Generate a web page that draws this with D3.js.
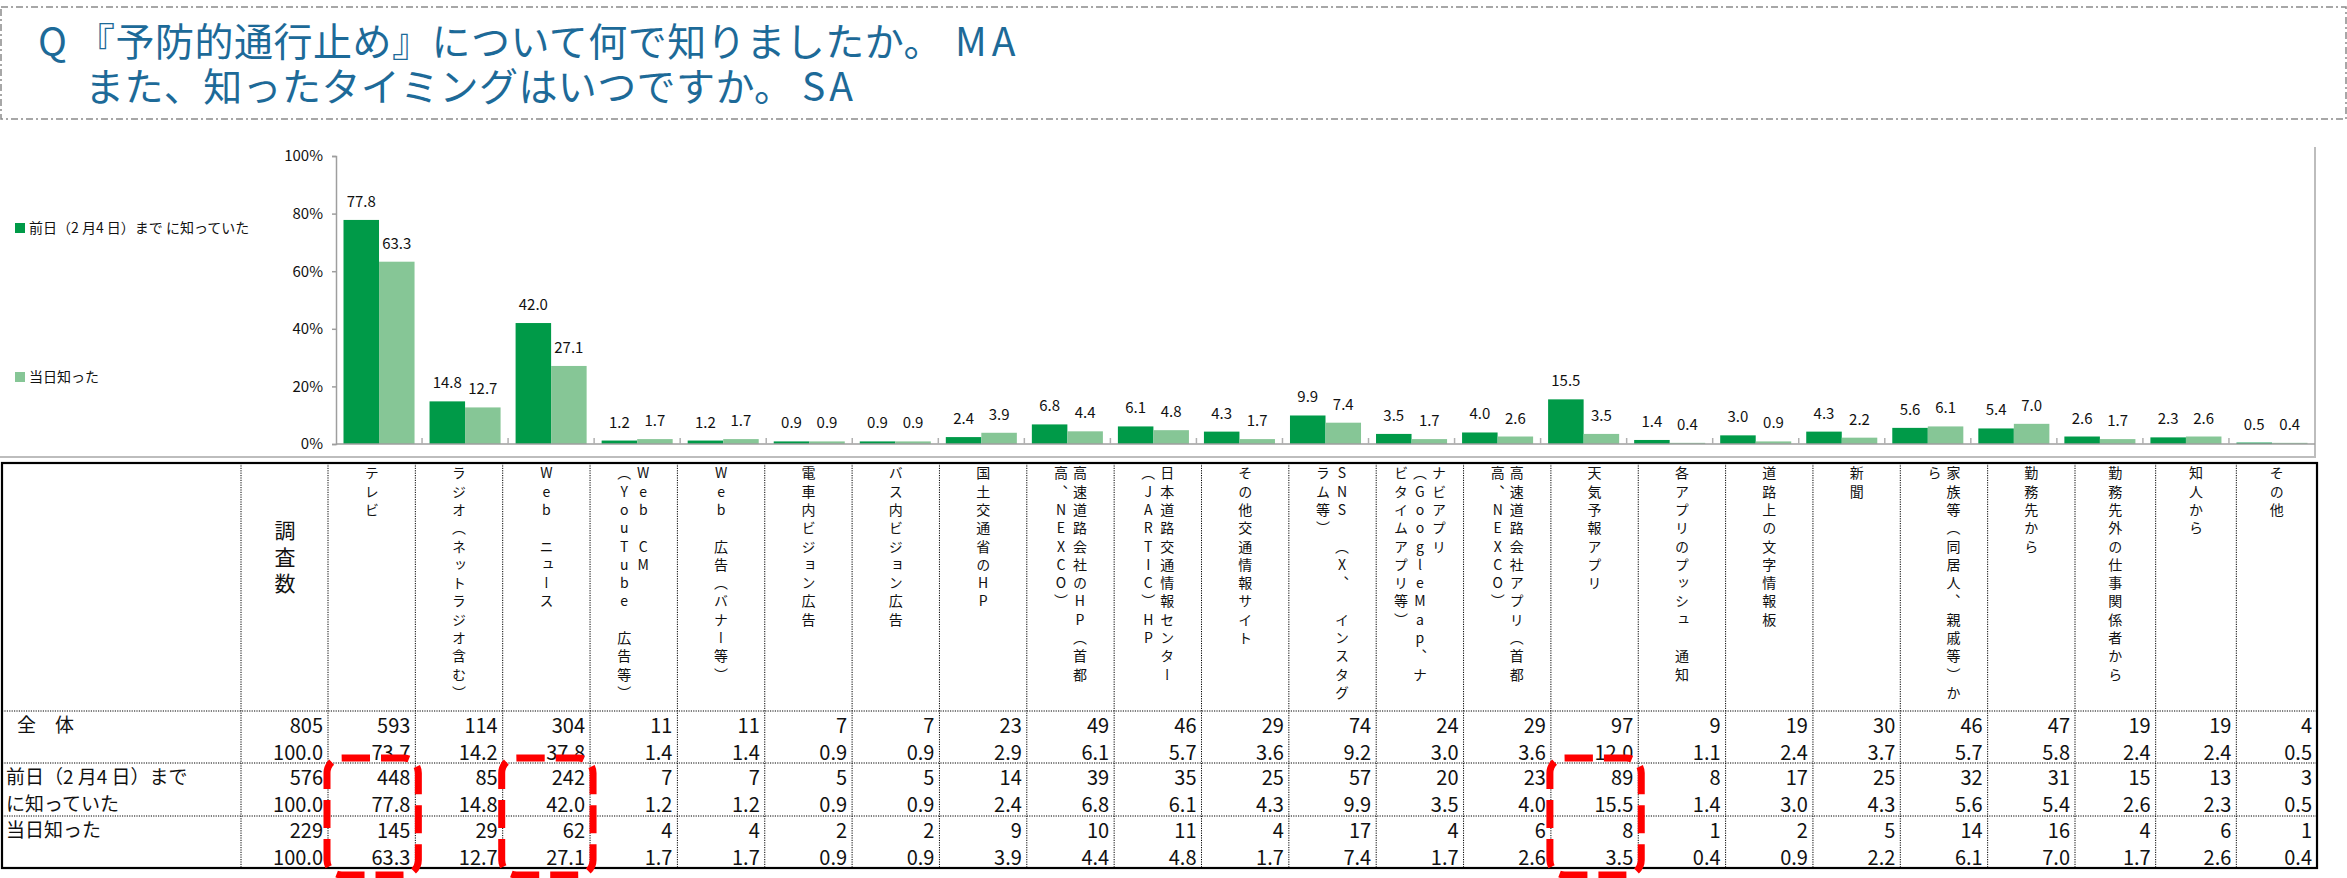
<!DOCTYPE html>
<html>
<head>
<meta charset="utf-8">
<script src="https://cdn.jsdelivr.net/npm/d3@7"></script>
<style>
  html, body { margin: 0; padding: 0; background: #fff; }
  svg text { font-family: "Noto Sans CJK JP", "Noto Sans", sans-serif; }
</style>
</head>
<body>
<div id="chart"></div>
<script>
// data
const titleQ = "Q";
const titleLine1 = "『予防的通行止め』について何で知りましたか。";
const titleTag1 = "MA";
const titleLine2 = "また、知ったタイミングはいつですか。";
const titleTag2 = "SA";

const seriesNames = ["前日（2 月4 日）まで に知っていた", "当日知った"];

// header text of every column, split in vertical lines (right to left)
const headerLines = [
    ["テレビ"],
    ["ラジオ（ネットラジオ含む）"],
    ["Web　ニュース"],
    ["Web　CM", "（YouTube　広告等）"],
    ["Web　広告（バナー等）"],
    ["電車内ビジョン広告"],
    ["バス内ビジョン広告"],
    ["国土交通省のHP"],
    ["高速道路会社のHP（首都", "高、NEXCO）"],
    ["日本道路交通情報センター", "（JARTIC）HP"],
    ["その他交通情報サイト"],
    ["SNS　（X、　インスタグ", "ラム等）"],
    ["ナビアプリ", "（GoogleMap、ナ", "ビタイムアプリ等）"],
    ["高速道路会社アプリ（首都", "高、NEXCO）"],
    ["天気予報アプリ"],
    ["各アプリのプッシュ　通知"],
    ["道路上の文字情報板"],
    ["新聞"],
    ["家族等（同居人、親戚等）か", "ら"],
    ["勤務先から"],
    ["勤務先外の仕事関係者から"],
    ["知人から"],
    ["その他"]
];

const pctBefore  = [77.8, 14.8, 42.0, 1.2, 1.2, 0.9, 0.9, 2.4, 6.8, 6.1, 4.3, 9.9, 3.5, 4.0, 15.5, 1.4, 3.0, 4.3, 5.6, 5.4, 2.6, 2.3, 0.5];
const pctSameDay = [63.3, 12.7, 27.1, 1.7, 1.7, 0.9, 0.9, 3.9, 4.4, 4.8, 1.7, 7.4, 1.7, 2.6, 3.5, 0.4, 0.9, 2.2, 6.1, 7.0, 1.7, 2.6, 0.4];
const pctTotal   = [73.7, 14.2, 37.8, 1.4, 1.4, 0.9, 0.9, 2.9, 6.1, 5.7, 3.6, 9.2, 3.0, 3.6, 12.0, 1.1, 2.4, 3.7, 5.7, 5.8, 2.4, 2.4, 0.5];

const nTotal   = [593, 114, 304, 11, 11, 7, 7, 23, 49, 46, 29, 74, 24, 29, 97, 9, 19, 30, 46, 47, 19, 19, 4];
const nBefore  = [448, 85, 242, 7, 7, 5, 5, 14, 39, 35, 25, 57, 20, 23, 89, 8, 17, 25, 32, 31, 15, 13, 3];
const nSameDay = [145, 29, 62, 4, 4, 2, 2, 9, 10, 11, 4, 17, 4, 6, 8, 1, 2, 5, 14, 16, 4, 6, 1];

const baseN = [805, 576, 229];
const rowLabels = [["全　体"], ["前日（2 月4 日）まで", "に知っていた"], ["当日知った"]];
const baseHeader = "調査数";
const yTicks = [0, 20, 40, 60, 80, 100];
const highlightCols = [0, 2, 14];

const W = 2347, H = 878;
const colors = ["#009a48", "#86c696"];
const titleColor = "#1d6a98";

const svg = d3.select("#chart").append("svg")
    .attr("width", W)
    .attr("height", H);

// ---- title box
svg.append("rect")
    .attr("x", 1).attr("y", 7)
    .attr("width", 2345).attr("height", 112)
    .attr("fill", "none")
    .attr("stroke", "#8a8a8a")
    .attr("stroke-width", 1.5)
    .attr("stroke-dasharray", "7 3 2 3");

// each title line is one text element, pieces placed with tspans
const title = svg.append("g")
    .style("font-size", "39px")
    .attr("fill", titleColor);

const t1 = title.append("text").attr("y", 56);
t1.append("tspan").attr("x", 38).text(titleQ);
t1.append("tspan").attr("x", 76).style("letter-spacing", "0.5px").text(titleLine1);
t1.append("tspan").attr("x", 955).style("letter-spacing", "5px").text(titleTag1);

const t2 = title.append("text").attr("y", 101);
t2.append("tspan").attr("x", 85).style("letter-spacing", "0.4px").text(titleLine2);
t2.append("tspan").attr("x", 802).style("letter-spacing", "4px").text(titleTag2);

// ---- bar chart
const x = d3.scaleBand()
    .domain(d3.range(pctBefore.length))
    .range([336, 2315]);

const x1 = d3.scaleBand()
    .domain([0, 1])
    .range([7.5, x.bandwidth() - 7.5]);

const y = d3.scaleLinear()
    .domain([0, 100])
    .range([444, 156]);

// chart area border (right and bottom only)
svg.append("path")
    .attr("d", "M2315,147 V457 H0")
    .attr("fill", "none")
    .attr("stroke", "#bdbdbd")
    .attr("stroke-width", 2);

const series = [pctBefore, pctSameDay];

const groups = svg.append("g").selectAll("g")
    .data(series)
    .join("g")
    .attr("fill", (d, i) => colors[i]);

groups.selectAll("rect")
    .data((vals, s) => vals.map((v, i) => ({ v, i, s })))
    .join("rect")
    .attr("x", d => x(d.i) + x1(d.s))
    .attr("y", d => y(d.v))
    .attr("width", x1.bandwidth())
    .attr("height", d => y(0) - y(d.v));

groups.selectAll("text")
    .data((vals, s) => vals.map((v, i) => ({ v, i, s })))
    .join("text")
    .attr("x", d => x(d.i) + x1(d.s) + x1.bandwidth() / 2)
    .attr("y", d => y(d.v) - 13)
    .attr("text-anchor", "middle")
    .attr("fill", "#111")
    .style("font-size", "15px")
    .text(d => d.v.toFixed(1));

// y axis
const yAxis = svg.append("g")
    .attr("transform", "translate(336,0)")
    .call(d3.axisLeft(y).tickValues(yTicks).tickFormat(d => d + "%").tickSize(4).tickPadding(9));
yAxis.select(".domain").attr("stroke", "#9e9e9e").attr("stroke-width", 1.5);
yAxis.selectAll(".tick line").attr("stroke", "#9e9e9e").attr("stroke-width", 1.5);
yAxis.selectAll("text")
    .style("font-size", "15px")
    .style("font-family", "'Noto Sans CJK JP', sans-serif")
    .attr("fill", "#111");

// x axis line and category separators
svg.append("line")
    .attr("x1", 336).attr("x2", 2315)
    .attr("y1", y(0)).attr("y2", y(0))
    .attr("stroke", "#9e9e9e").attr("stroke-width", 1.5);

svg.append("g").selectAll("line")
    .data(d3.range(1, pctBefore.length))
    .join("line")
    .attr("x1", i => x(i)).attr("x2", i => x(i))
    .attr("y1", y(0) - 6).attr("y2", y(0))
    .attr("stroke", "#b0b0b0").attr("stroke-width", 1.5);

// legend
const legend = svg.append("g").selectAll("g")
    .data(seriesNames)
    .join("g")
    .attr("transform", (d, i) => `translate(15,${[228, 377][i]})`);
legend.append("rect")
    .attr("x", 0).attr("y", -5)
    .attr("width", 10).attr("height", 10)
    .attr("fill", (d, i) => colors[i]);
legend.append("text")
    .attr("x", 14).attr("y", 5)
    .style("font-size", "14px")
    .attr("fill", "#111")
    .text(d => d);

// ---- table
const colEdges = d3.range(headerLines.length + 1)
    .map(i => i <= 20 ? 328 + i * 87.35 : 2075 + (i - 20) * 80.67);
const tTop = 463, tBottom = 868, tLeft = 2, tRight = colEdges[colEdges.length - 1];
const rowTops = [711, 763, 816];

const grid = svg.append("g")
    .attr("stroke", "#000")
    .attr("stroke-width", 1)
    .attr("stroke-dasharray", "1.2 1.2");

grid.selectAll("line.v")
    .data([241].concat(colEdges.slice(0, -1)))
    .join("line")
    .attr("class", "v")
    .attr("x1", d => d).attr("x2", d => d)
    .attr("y1", tTop).attr("y2", tBottom);

grid.selectAll("line.h")
    .data(rowTops)
    .join("line")
    .attr("class", "h")
    .attr("x1", tLeft).attr("x2", tRight)
    .attr("y1", d => d).attr("y2", d => d);

svg.append("rect")
    .attr("x", tLeft).attr("y", tTop)
    .attr("width", tRight - tLeft).attr("height", tBottom - tTop)
    .attr("fill", "none")
    .attr("stroke", "#000")
    .attr("stroke-width", 2.2);

// vertical header text, one glyph per cell slot, vertical forms from the font
const pitch = 18.3, lineGap = 19, headFont = 14;

const header = svg.append("g")
    .style("font-size", headFont + "px")
    .attr("fill", "#111");

function verticalChars(g, str, cx, top, step) {
    g.selectAll(null)
        .data(Array.from(str).map((c, k) => ({ c, k })).filter(d => d.c !== "　"))
        .join("text")
        .attr("x", cx)
        .attr("y", d => top + d.k * step)
        .style("writing-mode", "vertical-rl")
        .style("text-orientation", "upright")
        .text(d => d.c);
}

headerLines.forEach((lines, i) => {
    const cx = (colEdges[i] + colEdges[i + 1]) / 2;
    lines.forEach((line, j) => {
        const lx = cx + ((lines.length - 1) / 2 - j) * lineGap;
        verticalChars(header, line, lx, 473 - headFont / 2, pitch);
    });
});

// 調査数 header
const baseHead = svg.append("g")
    .style("font-size", "21px")
    .attr("fill", "#111");
verticalChars(baseHead, baseHeader, 285, 519.5, 26.7);

// row labels
const labelG = svg.append("g")
    .style("font-size", "19px")
    .attr("fill", "#111");
rowLabels.forEach((lines, r) => {
    lines.forEach((t, j) => {
        labelG.append("text")
            .attr("x", r === 0 ? 17 : 6)
            .attr("y", rowTops[r] + 21 + j * 26.5)
            .text(t);
    });
});

// table numbers
const tableRows = [
    { n: nTotal, p: pctTotal },
    { n: nBefore, p: pctBefore },
    { n: nSameDay, p: pctSameDay }
];
const cells = svg.append("g")
    .style("font-size", "20px")
    .attr("fill", "#111")
    .attr("text-anchor", "end");

tableRows.forEach((row, r) => {
    const top = rowTops[r];
    cells.append("text").attr("x", 323).attr("y", top + 21.5).text(baseN[r]);
    cells.append("text").attr("x", 323).attr("y", top + 48.5).text("100.0");
    cells.selectAll(null)
        .data(row.n)
        .join("text")
        .attr("x", (d, i) => colEdges[i + 1] - 5)
        .attr("y", top + 21.5)
        .text(d => d);
    cells.selectAll(null)
        .data(row.p)
        .join("text")
        .attr("x", (d, i) => colEdges[i + 1] - 5)
        .attr("y", top + 48.5)
        .text(d => d.toFixed(1));
});

// red dashed highlight boxes
svg.append("g").selectAll("rect")
    .data(highlightCols)
    .join("rect")
    .attr("x", i => colEdges[i] - 1)
    .attr("y", 758)
    .attr("width", i => colEdges[i + 1] - colEdges[i] + 4)
    .attr("height", 117)
    .attr("rx", 15)
    .attr("fill", "none")
    .attr("stroke", "#ff0000")
    .attr("stroke-width", 7)
    .attr("stroke-dasharray", "28 11");
</script>
</body>
</html>
